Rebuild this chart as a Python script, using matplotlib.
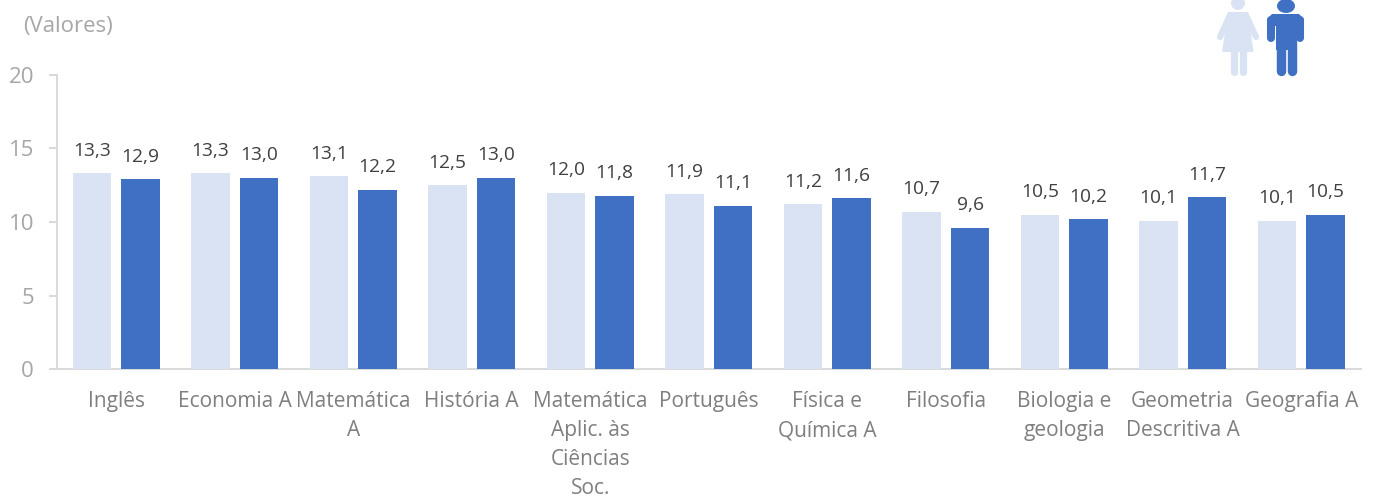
import matplotlib
matplotlib.use("Agg")
import matplotlib.pyplot as plt
import numpy as np
from matplotlib.patches import Circle, Ellipse, Polygon

plt.rcParams["font.family"] = ["Open Sans", "DejaVu Sans"]

W, H = 1374, 500
LIGHT = "#DAE3F3"
DARK = "#4070C4"

categories = [
    "Inglês", "Economia A", "Matemática\nA", "História A",
    "Matemática\nAplic. às\nCiências\nSoc.", "Português", "Física e\nQuímica A",
    "Filosofia", "Biologia e\ngeologia", "Geometria\nDescritiva A", "Geografia A",
]
female = [13.3, 13.3, 13.1, 12.5, 12.0, 11.9, 11.2, 10.7, 10.5, 10.1, 10.1]
male = [12.9, 13.0, 12.2, 13.0, 11.8, 11.1, 11.6, 9.6, 10.2, 11.7, 10.5]
y_ticks = [0, 5, 10, 15, 20]


def fmt(v):
    return f"{v:.1f}".replace(".", ",")


fig = plt.figure(figsize=(W / 100, H / 100), dpi=100)
ax = fig.add_axes([57 / W, 1 - 369 / H, (1360.5 - 57) / W, (369 - 75) / H])

x = np.arange(len(categories))
width = 0.325
offset = 0.205
bars_f = ax.bar(x - offset, female, width, color=LIGHT, zorder=3)
bars_m = ax.bar(x + offset, male, width, color=DARK, zorder=3)

for bars, values in [(bars_f, female), (bars_m, male)]:
    for b, v in zip(bars, values):
        ax.annotate(fmt(v), (b.get_x() + b.get_width() / 2, v), xytext=(0, 13.5),
                    textcoords="offset pixels", ha="center", va="bottom",
                    fontsize=13.8, color="#404040")

ax.set_xlim(-0.5, len(categories) - 0.5)
ax.set_ylim(0, 20)
ax.set_yticks(y_ticks)
ax.set_xticks(x)
ax.set_xticklabels(categories, fontsize=15, color="#7F7F7F", linespacing=1.5)
ax.tick_params(axis="x", length=0, pad=16)
ax.tick_params(axis="y", length=6, width=1.4, color="#D9D9D9", labelsize=16,
               labelcolor="#A6A6A6", pad=10.5)
for side in ["top", "right"]:
    ax.spines[side].set_visible(False)
for side in ["left", "bottom"]:
    ax.spines[side].set_color("#D9D9D9")
    ax.spines[side].set_linewidth(1.4)

fig.text(23 / W, 1 - 26.5 / H, "(Valores)", fontsize=15.9, color="#A6A6A6",
         ha="left", va="center")

# man / woman icons, drawn in pixel coordinates
icon = fig.add_axes([0, 0, 1, 1], zorder=5)
icon.set_xlim(0, W)
icon.set_ylim(H, 0)
icon.axis("off")
icon.patch.set_alpha(0)

icon.add_patch(Circle((1238, 3), 7, color=LIGHT, lw=0))
icon.add_patch(Polygon([(1228, 12), (1248, 12), (1253.5, 52), (1222, 52)], color=LIGHT, lw=0))
for xs, ys, lw in [
    ([1230, 1220], [15, 37], 4.4),
    ([1246, 1256], [15, 37], 4.4),
    ([1233.7, 1233.7], [50, 71.5], 5.2),
    ([1243, 1243], [50, 71.5], 5.2),
]:
    icon.plot(xs, ys, color=LIGHT, lw=lw, solid_capstyle="round")

icon.add_patch(Ellipse((1286, 6), 18, 14, color=DARK, lw=0))
icon.add_patch(Polygon([(1272, 14), (1299, 14), (1304, 19), (1304, 26), (1267, 26), (1267, 19)],
                       color=DARK, lw=0))
icon.add_patch(Polygon([(1275.5, 20), (1296.7, 20), (1296.7, 50), (1275.5, 50)], color=DARK, lw=0))
for xs, ys, lw in [
    ([1271, 1271], [20, 38], 5.8),
    ([1300, 1300], [20, 38], 5.8),
    ([1280.5, 1280.5], [42, 70.5], 6.8),
    ([1292, 1292], [42, 70.5], 6.8),
]:
    icon.plot(xs, ys, color=DARK, lw=lw, solid_capstyle="round")

fig.savefig("out.png", dpi=100)
